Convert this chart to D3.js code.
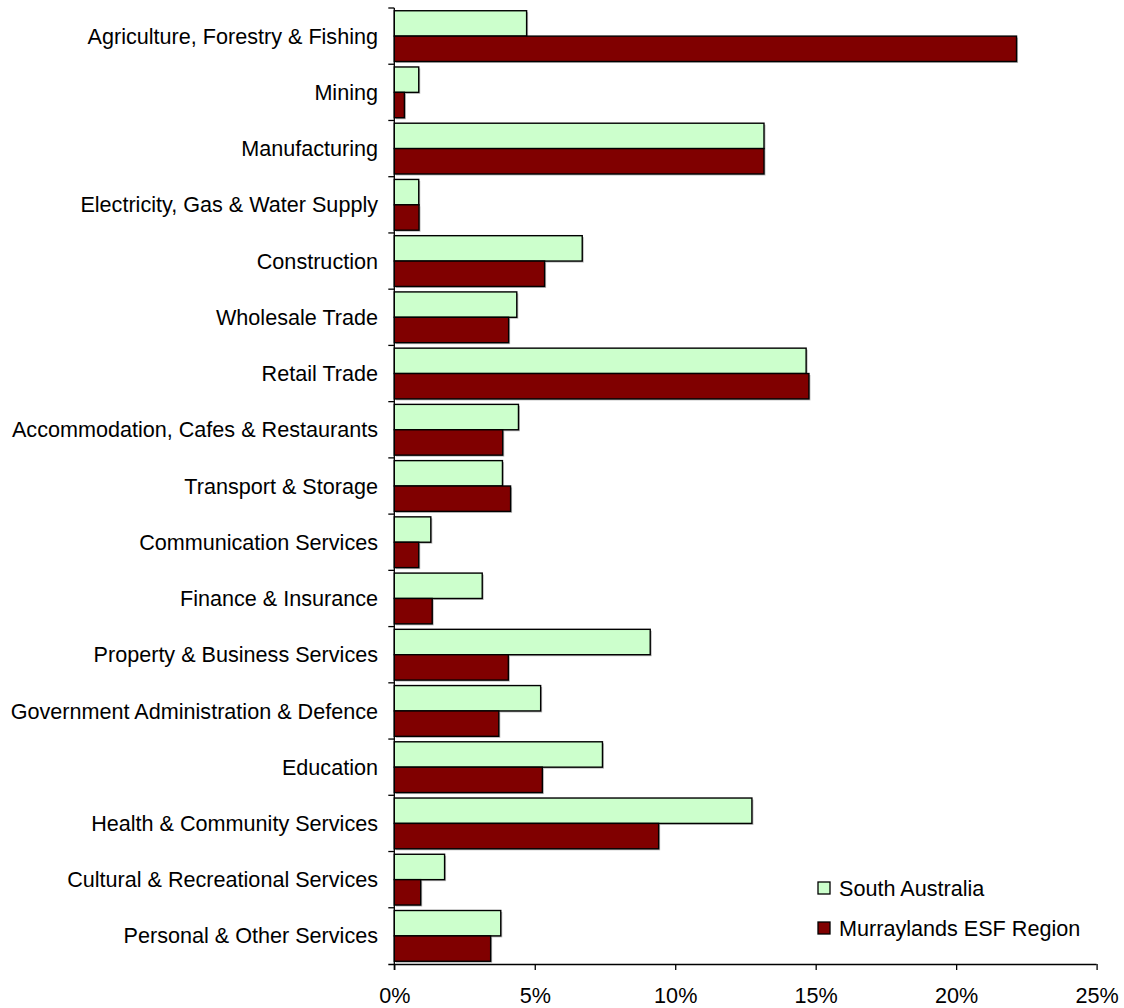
<!DOCTYPE html>
<html>
<head>
<meta charset="utf-8">
<script src="https://cdnjs.cloudflare.com/ajax/libs/d3/7.8.5/d3.min.js"></script>
<style>
  html, body { margin: 0; padding: 0; background: #fff; }
  svg { display: block; }
  text { font-family: "Liberation Sans", Arial, sans-serif; fill: #000; }
</style>
</head>
<body>
<svg id="chart" width="1124" height="1008"></svg>
<script>
// Employment share by industry (% of employed persons)
const industries = [
  "Agriculture, Forestry & Fishing",
  "Mining",
  "Manufacturing",
  "Electricity, Gas & Water Supply",
  "Construction",
  "Wholesale Trade",
  "Retail Trade",
  "Accommodation, Cafes & Restaurants",
  "Transport & Storage",
  "Communication Services",
  "Finance & Insurance",
  "Property & Business Services",
  "Government Administration & Defence",
  "Education",
  "Health & Community Services",
  "Cultural & Recreational Services",
  "Personal & Other Services"
];
const southAustralia = [4.71, 0.87, 13.16, 0.87, 6.69, 4.36, 14.66, 4.42, 3.85, 1.30, 3.13, 9.11, 5.21, 7.41, 12.73, 1.79, 3.79];
const murraylands    = [22.15, 0.36, 13.16, 0.88, 5.35, 4.07, 14.76, 3.86, 4.14, 0.87, 1.35, 4.06, 3.72, 5.27, 9.41, 0.94, 3.43];
const seriesNames  = ["South Australia", "Murraylands ESF Region"];
const seriesColors = ["#CCFFCC", "#800000"];
const xTicks = [0, 5, 10, 15, 20, 25];

const FONT_SIZE = 21.6;
const svg = d3.select("#chart");
const plotLeft = 394.3, plotRight = 1096.6, plotTop = 8, plotBottom = 964;

const x = d3.scaleLinear().domain([0, 25]).range([plotLeft, plotRight]);
const y = d3.scaleBand().domain(industries).range([plotTop, plotBottom]).paddingInner(0).paddingOuter(0);
// two bars per band, with a gap of roughly 55% of a bar's height
const inner = d3.scaleBand().domain(seriesNames).range([0, y.bandwidth()]).paddingInner(0).paddingOuter(0.1078);

const rows = industries.map((name, i) => ({
  name,
  values: [
    { series: seriesNames[0], v: southAustralia[i], color: seriesColors[0] },
    { series: seriesNames[1], v: murraylands[i], color: seriesColors[1] }
  ]
}));

const g = svg.append("g");
const groups = g.selectAll("g.row").data(rows).join("g")
  .attr("class", "row")
  .attr("transform", d => `translate(0,${y(d.name)})`);

// soft grey drop shadow behind each bar
groups.selectAll("rect.shadow").data(d => d.values).join("rect")
  .attr("class", "shadow")
  .attr("x", x(0) + 1.5)
  .attr("y", d => inner(d.series) + 1.5)
  .attr("width", d => x(d.v) - x(0))
  .attr("height", inner.bandwidth())
  .attr("fill", "#b8b8b8");

groups.selectAll("rect.bar").data(d => d.values).join("rect")
  .attr("class", "bar")
  .attr("x", x(0))
  .attr("y", d => inner(d.series))
  .attr("width", d => x(d.v) - x(0))
  .attr("height", inner.bandwidth())
  .attr("fill", d => d.color)
  .attr("stroke", "#000")
  .attr("stroke-width", 1.4);

// value axis
const xAxis = d3.axisBottom(x).tickValues(xTicks).tickFormat(d => d + "%").tickSize(6).tickPadding(18);
const xg = svg.append("g").attr("transform", `translate(0,${plotBottom})`).call(xAxis);
xg.select(".domain").attr("d", `M${plotLeft - 6},0.5H${plotRight}`).attr("stroke", "#000").attr("stroke-width", 1.3);
xg.selectAll(".tick line").attr("stroke", "#000").attr("stroke-width", 1.3);
xg.selectAll(".tick text").attr("font-size", FONT_SIZE).attr("font-family", "Liberation Sans, Arial, sans-serif").attr("fill", "#000");

// category axis
const yBoundaries = industries.map(d => y(d));
const yg = svg.append("g");
yg.append("line")
  .attr("x1", plotLeft).attr("x2", plotLeft)
  .attr("y1", plotTop).attr("y2", plotBottom + 6)
  .attr("stroke", "#000").attr("stroke-width", 1.3);
yg.selectAll("line.tick").data(yBoundaries).join("line")
  .attr("class", "tick")
  .attr("x1", plotLeft - 6).attr("x2", plotLeft)
  .attr("y1", d => d).attr("y2", d => d)
  .attr("stroke", "#000").attr("stroke-width", 1.3);
yg.selectAll("text").data(industries).join("text")
  .attr("x", 378)
  .attr("y", d => y(d) + y.bandwidth() / 2)
  .attr("dy", "0.35em")
  .attr("text-anchor", "end")
  .attr("font-size", FONT_SIZE)
  .text(d => d);

// legend
const legend = svg.append("g").attr("transform", "translate(818,882)");
seriesNames.forEach((name, i) => {
  const row = legend.append("g").attr("transform", `translate(0,${i * 40})`);
  row.append("rect").attr("x", 0).attr("y", 0).attr("width", 12).attr("height", 12)
    .attr("fill", seriesColors[i]).attr("stroke", "#000").attr("stroke-width", 1.3);
  row.append("text").attr("x", 21).attr("y", 6).attr("dy", "0.35em")
    .attr("font-size", FONT_SIZE).text(name);
});
</script>
</body>
</html>
